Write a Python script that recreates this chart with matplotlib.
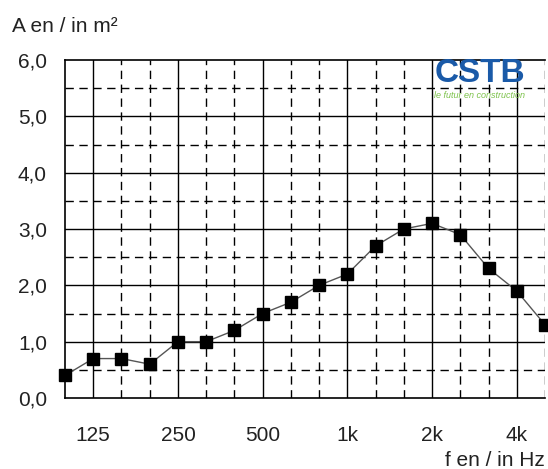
import matplotlib.pyplot as plt
import matplotlib

matplotlib.rcParams['font.family'] = ['Liberation Sans', 'DejaVu Sans']

# third-octave bands 100 Hz .. 5 kHz
freqs = ['100', '125', '160', '200', '250', '315', '400', '500', '630', '800',
         '1k', '1250', '1600', '2k', '2500', '3150', '4k', '5000']
area = [0.4, 0.7, 0.7, 0.6, 1.0, 1.0, 1.2, 1.5, 1.7, 2.0,
        2.2, 2.7, 3.0, 3.1, 2.9, 2.3, 1.9, 1.3]
octave_labels = ['125', '250', '500', '1k', '2k', '4k']
y_ticks = [0, 1, 2, 3, 4, 5, 6]
y_labels = ['0,0', '1,0', '2,0', '3,0', '4,0', '5,0', '6,0']

fig = plt.figure(figsize=(5.48, 4.69), dpi=100)
ax = fig.add_axes([65 / 548, 1 - 398 / 469, 480 / 548, 338 / 469])

x = list(range(len(freqs)))
oct_pos = [freqs.index(l) for l in octave_labels]

# grid: solid at octaves / integers, dashed in between
for i in x:
    if i == 0:
        continue
    if i in oct_pos:
        ax.axvline(i, color='black', lw=1.0, zorder=1)
    else:
        ax.axvline(i, color='black', lw=1.0, ls=(0, (6, 4)), zorder=1)
for v in [0.5, 1.5, 2.5, 3.5, 4.5, 5.5]:
    ax.axhline(v, color='black', lw=1.0, ls=(0, (6, 4)), zorder=1)
for v in [1, 2, 3, 4, 5]:
    ax.axhline(v, color='black', lw=1.0, zorder=1)

ax.plot(x, area, color='#555555', lw=1.0, marker='s', markersize=8.5,
        markerfacecolor='black', markeredgecolor='black', zorder=3, clip_on=False)

ax.set_xlim(0, 17)
ax.set_ylim(0, 6)
ax.set_xticks(oct_pos)
ax.set_xticklabels(octave_labels)
ax.set_yticks(y_ticks)
ax.set_yticklabels(y_labels)
ax.tick_params(length=0, labelsize=15, colors='#222222')
ax.tick_params(axis='y', pad=13)
ax.tick_params(axis='x', pad=20)
for s in ax.spines.values():
    s.set_linewidth(1.2)
    s.set_color('black')
ax.spines['right'].set_visible(False)

fig.text(12 / 548, 1 - 32 / 469, 'A en / in m²', fontsize=15, color='#222222',
         ha='left', va='baseline')
fig.text(545 / 548, 1 - 466 / 469, 'f en / in Hz', fontsize=15, color='#222222',
         ha='right', va='baseline')

# CSTB logo
fig.text(480 / 548, 1 - 73 / 469, 'CSTB', fontsize=24, fontweight='bold',
         color='#1a5aa8', ha='center', va='center', zorder=5)
fig.text(480 / 548, 1 - 95 / 469, 'le futur en construction', fontsize=6.5,
         style='italic', color='#7cc24a', ha='center', va='center', zorder=5)

fig.savefig('out.png', dpi=100)
